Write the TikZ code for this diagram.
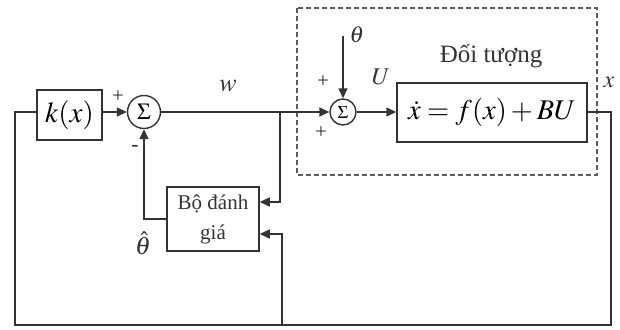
\documentclass[tikz,border=0pt]{standalone}
\usepackage{mathptmx}
\usepackage[no-math]{fontspec}
\setmainfont{Liberation Serif}
\usetikzlibrary{arrows.meta}
\definecolor{ln}{HTML}{333333}
\tikzset{
  blk/.style={draw=ln, line width=1.5pt, minimum width=#1, inner sep=0pt},
  sumc/.style={draw=ln, line width=1.4pt, circle, inner sep=0pt},
  wire/.style={draw=ln, line width=1.5pt},
  arr/.style={wire, -{Triangle[length=10pt,width=9pt]}},
  lbl/.style={inner sep=0pt, text=ln},
}
\begin{document}
\begin{tikzpicture}[x=1pt,y=-1pt]
\useasboundingbox (0,0) rectangle (620,329);
% dashed plant frame
\draw[draw=ln!80, line width=1.3pt, dash pattern=on 5pt off 3pt] (297,8) rectangle (597,175);
% blocks
\node[blk=65pt, minimum height=50pt] (kx) at (69.5,115) {\fontsize{29}{30}\selectfont $k(x)$};
\node[sumc, minimum size=33pt] (s1) at (144,112) {\fontsize{23}{24}\selectfont $\Sigma$};
\node[sumc, minimum size=26pt] (s2) at (343,112) {\fontsize{18}{20}\selectfont $\Sigma$};
\node[blk=190pt, minimum height=59pt] (pl) at (492,112.5) {\fontsize{28.5}{30}\selectfont $\dot{x}=f(x)+BU$};
\node[blk=92pt, minimum height=64pt, align=center, font=\fontsize{21}{30}\selectfont, text=ln] (es) at (213,219) {Bộ đánh\\ giá};
% coordinates
\coordinate (br) at (280,112);
\coordinate (brd) at (280,202);
\coordinate (eo) at (144,219);
\coordinate (po) at (611,112);
\coordinate (bl) at (15,325);
\coordinate (br2) at (611,325);
\coordinate (mid) at (282,325);
\coordinate (th) at (343,36);
% connectors
\draw[arr] (kx.east |- s1.west) -- (s1.west);
\draw[arr] (s1.east) -- (s2.west);
\draw[arr] (br) -- (brd) -- (es.east |- brd);
\draw[arr] (es.west |- eo) -- (eo) -- (s1.south);
\draw[arr] (s2.east) -- (pl.west |- s2.east);
\draw[arr] (th) -- (s2.north);
\draw[wire] (pl.east |- po) -- (po) -- (br2) -- (bl) |- (kx.west |- s1.west);
\draw[arr] (mid) |- (es.east |- 0,234);
% labels
\node[lbl] (pa) at (118,97) {\fontsize{21}{21}\selectfont +};
\node[lbl] (mi) at (135,148) {\fontsize{22}{22}\selectfont -};
\node[lbl] (w) at (228,86) {\fontsize{26}{26}\selectfont $w$};
\node[lbl] (pb) at (323,82) {\fontsize{21}{21}\selectfont +};
\node[lbl] (pc) at (321,133) {\fontsize{21}{21}\selectfont +};
\node[lbl] (thl) at (357,35) {\fontsize{23}{23}\selectfont $\theta$};
\node[lbl] (ul) at (381,77) {\fontsize{24}{24}\selectfont $U$};
\node[lbl] (xl) at (609,82) {\fontsize{24}{24}\selectfont $x$};
\node[lbl, anchor=base] (dt) at (491,62) {\fontsize{25}{25}\selectfont Đối tượng};
\node[lbl] (thh) at (143,243) {\fontsize{25}{25}\selectfont $\hat{\theta}$};
\end{tikzpicture}
\end{document}
